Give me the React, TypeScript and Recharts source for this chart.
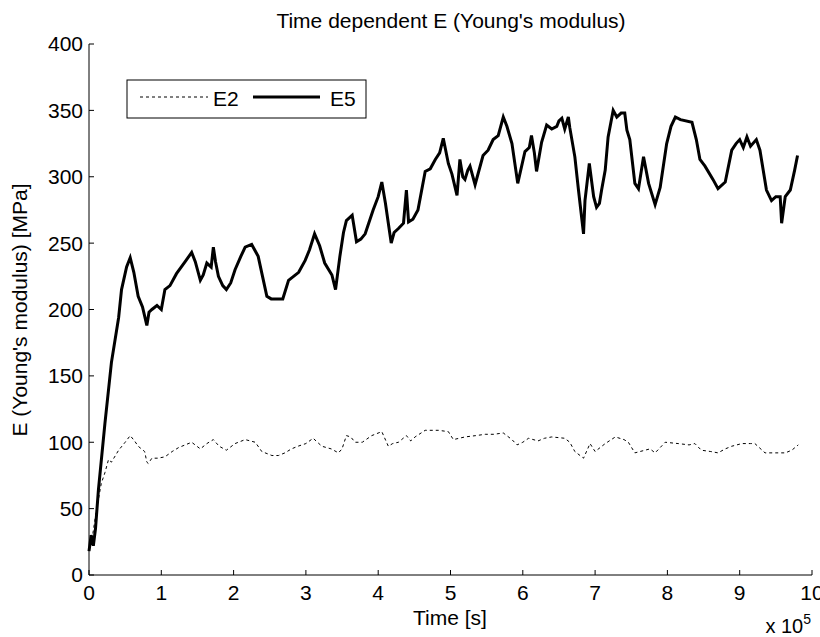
import { LineChart, Line, XAxis, YAxis, Customized } from 'recharts';

// time in units of 1e5 s, E in MPa
const e5Time = [
  0, 0.03, 0.06, 0.09, 0.13, 0.22, 0.31, 0.41, 0.45, 0.52, 0.57, 0.62, 0.68, 0.74, 0.8, 0.83, 0.87, 0.94,
  1.0, 1.05, 1.12, 1.21, 1.33, 1.42, 1.47, 1.54, 1.58, 1.63, 1.69, 1.72, 1.75, 1.79, 1.85, 1.9, 1.96,
  2.02, 2.1, 2.16, 2.25, 2.34, 2.4, 2.46, 2.52, 2.6, 2.68, 2.76, 2.9, 2.99, 3.05, 3.12, 3.19, 3.26,
  3.36, 3.41, 3.47, 3.52, 3.56, 3.64, 3.7, 3.76, 3.82, 3.93, 4.0, 4.05, 4.1, 4.14, 4.18, 4.22, 4.28,
  4.35, 4.39, 4.42, 4.48, 4.55, 4.65, 4.72, 4.79, 4.85, 4.9, 4.97, 5.02, 5.09, 5.13, 5.17, 5.2, 5.24,
  5.27, 5.34, 5.45, 5.52, 5.59, 5.66, 5.73, 5.78, 5.85, 5.93, 6.03, 6.09, 6.12, 6.16, 6.19, 6.26, 6.33,
  6.4, 6.47, 6.5, 6.54, 6.58, 6.63, 6.65, 6.72, 6.77, 6.84, 6.86, 6.92, 6.98, 7.02, 7.06, 7.09, 7.14,
  7.18, 7.25, 7.3, 7.36, 7.41, 7.44, 7.48, 7.55, 7.6, 7.67, 7.74, 7.83, 7.9, 7.99, 8.05, 8.11, 8.18,
  8.34, 8.4, 8.45, 8.52, 8.63, 8.7, 8.8, 8.89, 8.95, 9.0, 9.05, 9.1, 9.15, 9.23, 9.28, 9.37, 9.44, 9.5,
  9.56, 9.58, 9.63, 9.7, 9.76, 9.8,
];
const e5Values = [
  18, 30, 22, 35, 64, 114, 160, 194, 215, 232, 239, 228, 210, 202, 188, 198, 200, 203,
  200, 215, 218, 227, 236, 243, 236, 222, 226, 235, 232, 247, 236, 225, 218, 215, 220,
  230, 240, 247, 249, 240, 225, 210, 208, 208, 208, 222, 228, 237, 245, 257, 248, 235,
  226, 215, 240, 258, 267, 271, 251, 253, 257, 275, 285, 296, 280, 265, 250, 258, 261,
  265, 290, 266, 268, 275, 304, 306, 313, 318, 329, 310, 302, 286, 313, 300, 298, 305,
  308, 294, 316, 320, 328, 331, 345, 338, 325, 295, 319, 322, 331, 318, 304, 326, 339,
  336, 338, 342, 344, 336, 345, 337, 315, 290, 257, 282, 310, 285, 277, 280, 290, 305,
  330, 350, 345, 348, 348, 335, 328, 295, 291, 315, 295, 279, 292, 325, 338, 345, 343,
  341, 328, 313, 308, 298, 291, 296, 320, 325, 328, 322, 330, 323, 328, 320, 290, 282, 285,
  285, 265, 285, 290, 305, 316,
];

const e2Time = [
  0, 0.05, 0.1, 0.17, 0.22, 0.27, 0.31, 0.41, 0.5, 0.57, 0.63, 0.68, 0.77, 0.8, 0.82, 0.87, 0.95,
  1.05, 1.15, 1.24, 1.33, 1.42, 1.54, 1.63, 1.72, 1.8, 1.9, 2.02, 2.16, 2.3, 2.39, 2.53, 2.62, 2.71,
  2.8, 2.89, 3.0, 3.1, 3.22, 3.35, 3.45, 3.5, 3.56, 3.62, 3.68, 3.78, 3.91, 4.05, 4.14, 4.2, 4.28,
  4.39, 4.45, 4.51, 4.65, 4.83, 4.97, 5.04, 5.2, 5.35, 5.48, 5.6, 5.73, 5.85, 5.92, 6.0, 6.08, 6.21,
  6.3, 6.4, 6.58, 6.65, 6.72, 6.84, 6.93, 7.0, 7.07, 7.14, 7.28, 7.4, 7.46, 7.55, 7.62, 7.69, 7.76,
  7.83, 7.97, 8.15, 8.3, 8.38, 8.47, 8.6, 8.7, 8.8, 8.89, 9.03, 9.15, 9.21, 9.35, 9.5, 9.63, 9.72, 9.81,
];
const e2Values = [
  18, 30, 48, 69, 77, 87, 85, 94, 100, 105, 101, 97, 93, 85, 84, 88, 88,
  89, 93, 96, 98, 100, 95, 99, 102, 97, 94, 99, 102, 100, 93, 90, 90, 92,
  95, 97, 99, 103, 97, 95, 92, 95, 105, 104, 100, 100, 105, 108, 97, 99, 100,
  105, 101, 104, 109, 109, 108, 102, 104, 105, 106, 106, 107, 102, 98, 100, 103, 101,
  103, 104, 103, 100, 93, 88, 99, 93, 96, 99, 104, 102, 100, 92, 93, 94, 95,
  92, 100, 99, 98, 99, 94, 93, 92, 95, 97, 99, 99, 99, 92, 92, 92, 94, 98,
];

const xTicks = [0, 1, 2, 3, 4, 5, 6, 7, 8, 9, 10];
const yTicks = [0, 50, 100, 150, 200, 250, 300, 350, 400];

const e5Data = e5Time.map((t, i) => ({ t, v: e5Values[i] }));
const e2Data = e2Time.map((t, i) => ({ t, v: e2Values[i] }));

const FONT = '"Liberation Sans", Arial, Helvetica, sans-serif';
const blank = () => '';

function Annotations() {
  return (
    <g fontFamily={FONT} fill="#000">
      <text x={451} y={28} fontSize={21} textAnchor="middle">Time dependent E (Young's modulus)</text>
      <text x={450} y={625} fontSize={21} textAnchor="middle">Time [s]</text>
      <text x={811} y={633} fontSize={20} textAnchor="end">
        x 10<tspan dy={-9} fontSize={14}>5</tspan>
      </text>
      <text
        x={19}
        y={310}
        fontSize={21}
        textAnchor="middle"
        dominantBaseline="central"
        transform="rotate(-90 19 310)"
      >
        E (Young's modulus) [MPa]
      </text>
      {/* legend */}
      <rect x={127} y={80} width={239} height={38} fill="#fff" stroke="#000" strokeWidth={1} />
      <line x1={140} y1={97} x2={208} y2={97} stroke="#000" strokeWidth={1} strokeDasharray="3 3" />
      <text x={213} y={106} fontSize={21}>E2</text>
      <line x1={253} y1={97} x2={320} y2={97} stroke="#000" strokeWidth={3} />
      <text x={330} y={106} fontSize={21}>E5</text>
    </g>
  );
}

export default function App() {
  return (
    <div style={{ position: 'absolute', left: 0, top: 0, background: '#fff' }}>
      <LineChart width={820} height={637} margin={{ top: 44, right: 8, bottom: 32, left: 0 }}>
        <XAxis
          xAxisId="b"
          dataKey="t"
          type="number"
          domain={[0, 10]}
          ticks={xTicks}
          interval={0}
          height={30}
          stroke="#000"
          tickSize={-5}
          tickMargin={15}
          tick={{ fill: '#000', fontSize: 21, fontFamily: FONT }}
        />
        <XAxis
          xAxisId="t"
          orientation="top"
          dataKey="t"
          type="number"
          domain={[0, 10]}
          ticks={xTicks}
          interval={0}
          height={0}
          stroke="#000"
          tickSize={-5}
          tickFormatter={blank}
        />
        <YAxis
          yAxisId="l"
          type="number"
          domain={[0, 400]}
          ticks={yTicks}
          interval={0}
          width={89}
          stroke="#000"
          tickSize={-5}
          tickMargin={11}
          tick={{ fill: '#000', fontSize: 21, fontFamily: FONT }}
        />
        <YAxis
          yAxisId="r"
          orientation="right"
          type="number"
          domain={[0, 400]}
          ticks={yTicks}
          interval={0}
          width={0}
          stroke="#000"
          tickSize={-5}
          tickFormatter={blank}
        />
        <Line
          xAxisId="b"
          yAxisId="l"
          data={e2Data}
          dataKey="v"
          type="linear"
          stroke="#000"
          strokeWidth={1}
          strokeDasharray="3 3"
          dot={false}
          isAnimationActive={false}
        />
        <Line
          xAxisId="b"
          yAxisId="l"
          data={e5Data}
          dataKey="v"
          type="linear"
          stroke="#000"
          strokeWidth={3}
          dot={false}
          isAnimationActive={false}
        />
        <Customized component={Annotations} />
      </LineChart>
    </div>
  );
}
